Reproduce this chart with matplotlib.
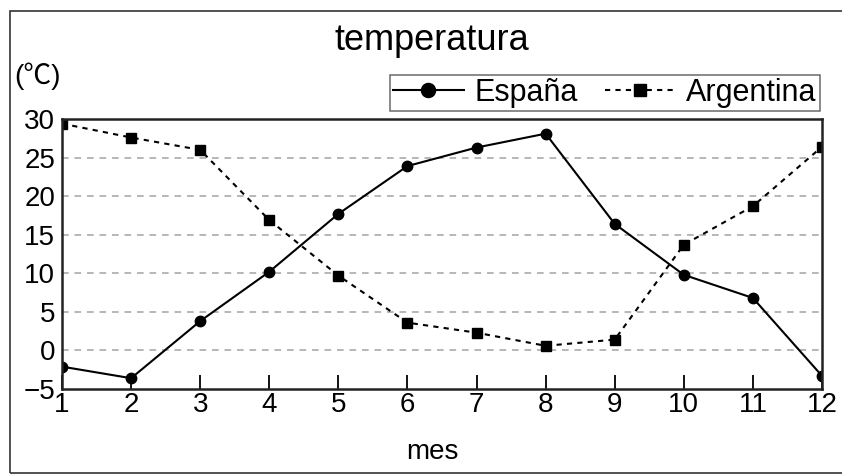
import matplotlib.pyplot as plt
from matplotlib.patches import Rectangle

# datos
meses = [1, 2, 3, 4, 5, 6, 7, 8, 9, 10, 11, 12]
espana = [-2.1, -3.6, 3.8, 10.2, 17.7, 23.9, 26.3, 28.1, 16.4, 9.8, 6.8, -3.3]
argentina = [29.4, 27.6, 26.0, 16.9, 9.7, 3.6, 2.3, 0.6, 1.4, 13.7, 18.7, 26.4]
yticks = [-5, 0, 5, 10, 15, 20, 25, 30]

plt.rcParams['font.family'] = ['Liberation Sans', 'Noto Sans CJK KR', 'DejaVu Sans']

fig = plt.figure(figsize=(8.42, 4.74), dpi=100)
ax = fig.add_axes([62 / 842, 1 - 389 / 474, 760 / 842, 270 / 474])

# marco exterior
fig.patches.append(Rectangle((10 / 842, 1 / 474), 1.0, 462 / 474, transform=fig.transFigure,
                             fill=False, edgecolor='#333333', linewidth=1.2))

ax.plot(meses, espana, '-', color='black', linewidth=1.5, marker='o', markersize=7.5,
        label='España')
ax.plot(meses, argentina, linestyle=(0, (2.5, 2.5)), color='black', linewidth=1.5, marker='s',
        markersize=6.5, label='Argentina')

ax.set_xlim(1, 12)
ax.set_ylim(-5, 30)
ax.set_xticks(meses)
ax.set_yticks(yticks)
ax.set_yticklabels(['\u22125' if v == -5 else str(v) for v in yticks])
for v in yticks[1:-1]:
    ax.axhline(v, color='#aaaaaa', linestyle=(0, (4, 3.5)), linewidth=1.2, zorder=0)

for s in ax.spines.values():
    s.set_linewidth(1.8)
    s.set_color('#222222')
ax.tick_params(axis='x', direction='in', length=10, width=1.3, labelsize=20, pad=2)
ax.tick_params(axis='y', length=0, labelsize=20, pad=5)

fig.text(432 / 842, 1 - 41 / 474, 'temperatura', ha='center', va='center', fontsize=26)
fig.text(37 / 842, 1 - 76 / 474, '(℃)', ha='center', va='center', fontsize=20)
fig.text(432 / 842, 1 - 452 / 474, 'mes', ha='center', va='center', fontsize=20)

leg = ax.legend(loc='lower right', bbox_to_anchor=(0.997, 1.03), ncol=2, frameon=True,
                fancybox=False, fontsize=22, handlelength=2.3, handletextpad=0.35,
                columnspacing=0.9, borderpad=0.1, borderaxespad=0.0, markerscale=1.35)
leg.get_frame().set_edgecolor('#444444')
leg.get_frame().set_linewidth(1.1)

fig.savefig('out.png', dpi=100)
